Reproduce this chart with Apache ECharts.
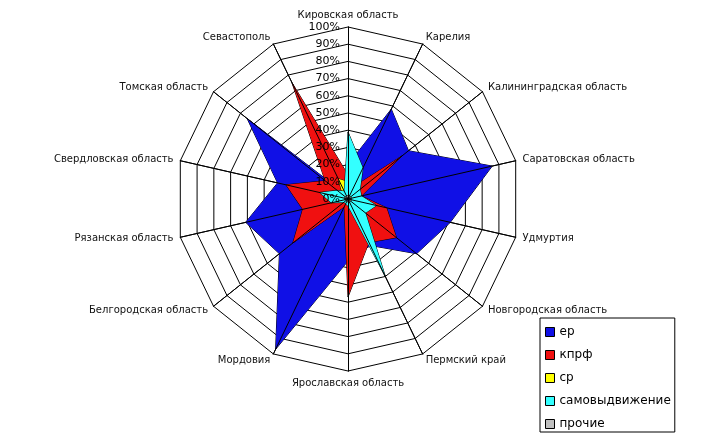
<!DOCTYPE html>
<html>
<head>
<meta charset="utf-8">
<script src="https://cdn.jsdelivr.net/npm/echarts@6/dist/echarts.min.js"></script>
<style>
html, body { margin: 0; padding: 0; background: #fff; }
#chart { width: 726px; height: 438px; }
</style>
</head>
<body>
<div id="chart"></div>
<script>
// regions clockwise, starting from the top axis
var regions = ['Кировская область', 'Карелия', 'Калининградская область', 'Саратовская область',
	'Удмуртия', 'Новгородская область', 'Пермский край', 'Ярославская область', 'Мордовия',
	'Белгородская область', 'Рязанская область', 'Свердловская область', 'Томская область', 'Севастополь'];
var parties = ['ер', 'кпрф', 'ср', 'самовыдвижение', 'прочие'];
var colors = ['#1010e6', '#f01010', '#ffff00', '#33ffff', '#c0c0c0'];
// shares, %
var er    = [20, 58, 45, 86, 61, 51, 30, 36, 97, 51, 61, 42, 75, 3];
var kprf  = [14, 8, 40, 8, 23, 36, 28, 57, 5, 41, 27, 37, 17, 75];
var sr    = [10, 3, 3, 3, 3, 3, 3, 3, 2, 2, 3, 4, 4, 13];
var samo  = [39, 20, 9, 8, 17, 13, 50, 4, 3, 3, 10, 17, 8, 5];
var other = [2, 2, 2, 2, 2, 2, 2, 2, 1, 1, 2, 2, 2, 2];
var ticks = [0, 10, 20, 30, 40, 50, 60, 70, 80, 90, 100];

var values = [er, kprf, sr, samo, other];

// echarts lays radar axes out counterclockwise, so reorder to get clockwise
function clockwise(arr) {
	return [arr[0]].concat(arr.slice(1).reverse());
}

var indicators = clockwise(regions).map(function (n) {
	return { name: n, min: 0, max: 100 };
});

var font = 'DejaVu Sans';

var option = {
	animation: false,
	backgroundColor: '#fff',
	legend: {
		orient: 'vertical',
		left: 540,
		top: 318,
		itemWidth: 9,
		itemHeight: 9,
		itemGap: 11,
		padding: [8, 4, 2, 5],
		borderColor: '#000',
		borderWidth: 1,
		textStyle: { fontFamily: font, fontSize: 12, color: '#000' },
		data: parties.map(function (p, i) {
			return { name: p, icon: 'rect', itemStyle: { color: colors[i], borderColor: '#000', borderWidth: 1 } };
		})
	},
	grid: { left: 348, top: 27, width: 1, height: 172, z: 10 },
	xAxis: { type: 'value', show: false },
	yAxis: {
		type: 'value',
		min: ticks[0],
		max: ticks[ticks.length - 1],
		interval: 10,
		z: 10,
		axisLine: { show: false },
		axisTick: { show: false },
		splitLine: { show: false },
		axisLabel: { formatter: '{value}%', fontFamily: font, fontSize: 11, color: '#000', margin: 8 }
	},
	radar: [{
		center: [348, 199],
		radius: 172,
		startAngle: 90,
		shape: 'polygon',
		splitNumber: 10,
		indicator: indicators,
		nameGap: 7,
		axisName: { color: '#111', fontFamily: font, fontSize: 10 },
		axisLine: { lineStyle: { color: '#000', width: 1 } },
		splitLine: { lineStyle: { color: '#000', width: 1 } },
		splitArea: { show: false },
		z: 0
	}, {
		// axis spokes drawn again above the filled areas
		center: [348, 199],
		radius: 172,
		startAngle: 90,
		shape: 'polygon',
		splitNumber: 10,
		indicator: indicators,
		axisName: { show: false },
		axisLine: { lineStyle: { color: '#000', width: 1 } },
		splitLine: { show: false },
		splitArea: { show: false },
		z: 10
	}],
	series: parties.map(function (p, i) {
		return {
			name: p,
			type: 'radar',
			radarIndex: 0,
			symbol: 'none',
			silent: true,
			itemStyle: { color: colors[i] },
			lineStyle: { color: '#000', width: 1 },
			areaStyle: { color: colors[i], opacity: 1 },
			data: [{ name: p, value: clockwise(values[i]) }]
		};
	})
};

var chart = echarts.init(document.getElementById('chart'));
chart.setOption(option);
</script>
</body>
</html>
